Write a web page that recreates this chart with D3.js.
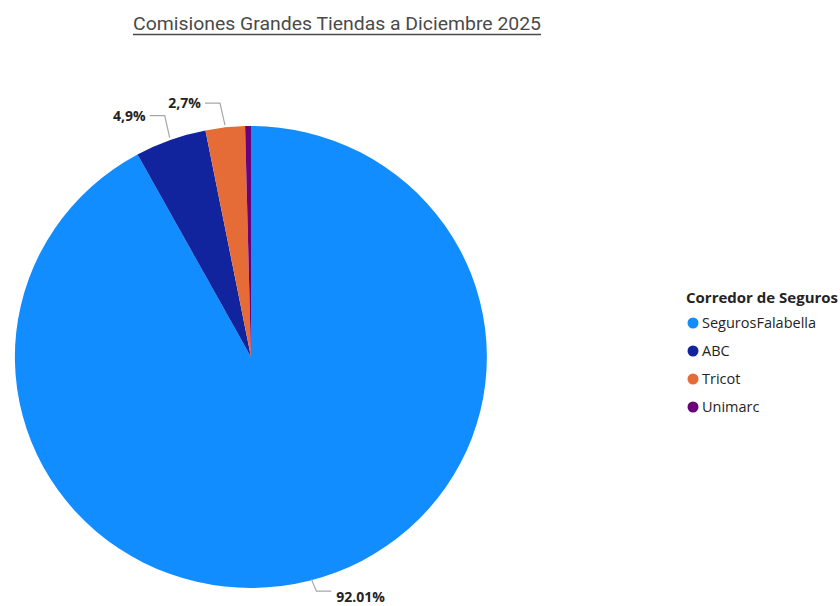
<!DOCTYPE html>
<html><head><meta charset="utf-8">
<script src="https://cdn.jsdelivr.net/npm/d3@7"></script>
<style>body{margin:0;background:#fff;}</style>
</head><body>
<svg id="c" width="840" height="606"></svg>
<script>
const categories = ["SegurosFalabella", "ABC", "Tricot", "Unimarc"];
const values = [92.01, 4.9, 2.7, 0.39];
const labels = ["92.01%", "4,9%", "2,7%", null];
const colors = ["#118DFF", "#12239E", "#E66C37", "#6B007B"];
const titleText = "Comisiones Grandes Tiendas a Diciembre 2025";
const legendTitle = "Corredor de Seguros";

const svg = d3.select("#c");
const W = 840, H = 606;
svg.append("rect").attr("width", W).attr("height", H).attr("fill", "#fff");

// Title
svg.append("text").attr("x", 133).attr("y", 30)
  .attr("font-family", "Roboto, 'DejaVu Sans Condensed', sans-serif")
  .attr("font-size", 18).attr("fill", "#4a4a4a")
  .attr("textLength", 408).attr("lengthAdjust", "spacingAndGlyphs")
  .text(titleText);
svg.append("line").attr("x1", 133).attr("x2", 541).attr("y1", 34.5).attr("y2", 34.5)
  .attr("stroke", "#4a4a4a").attr("stroke-width", 1.3);

// Pie
const cx = 251, cy = 357, rx = 236, ry = 231;
const pie = d3.pie().sort(null).value(d => d)(values);
const arc = d3.arc().innerRadius(0).outerRadius(1);
const g = svg.append("g").attr("transform", `translate(${cx},${cy}) scale(${rx},${ry})`);
g.selectAll("path").data(pie).join("path")
  .attr("d", arc).attr("fill", (d, i) => colors[i]);

// Labels with leader lines
const pt = (a, k) => [cx + Math.sin(a) * rx * k, cy - Math.cos(a) * ry * k];
const lab = svg.append("g");
pie.forEach((d, i) => {
  if (!labels[i]) return;
  const mid = (d.startAngle + d.endAngle) / 2;
  let p0, p1, p2, tx, ty, anchor;
  if (i === 0) {
    const a = Math.PI - 0.26;
    p0 = pt(a, 0.995); p1 = [p0[0] + 5, p0[1] + 12]; p2 = [p1[0] + 15, p1[1]];
    tx = p2[0] + 5; ty = 602; anchor = "start";
  } else {
    p0 = pt(mid, 1.01);
    p1 = [p0[0] - 5, p0[1] - 22]; p2 = [p1[0] - 15, p1[1]];
    tx = p2[0] - 4; ty = p2[1] + 5; anchor = "end";
  }
  lab.append("polyline").attr("points", [p0, p1, p2].map(p => p.join(",")).join(" "))
    .attr("fill", "none").attr("stroke", "#a6a6a6").attr("stroke-width", 1.2);
  lab.append("text").attr("x", tx).attr("y", ty).attr("text-anchor", anchor)
    .attr("font-family", "'Open Sans', 'Noto Sans', sans-serif").attr("font-weight", "bold")
    .attr("font-size", 14).attr("fill", "#252423").text(labels[i]);
});

// Legend
const lg = svg.append("g").attr("transform", "translate(686,0)");
lg.append("text").attr("x", 0).attr("y", 303)
  .attr("font-family", "'Open Sans', 'Noto Sans', sans-serif").attr("font-weight", "bold")
  .attr("font-size", 15).attr("fill", "#252423").text(legendTitle);
categories.forEach((c, i) => {
  const y = 323 + i * 28;
  lg.append("circle").attr("cx", 7).attr("cy", y).attr("r", 5.5).attr("fill", colors[i]);
  lg.append("text").attr("x", 16).attr("y", y + 5)
    .attr("font-family", "'Open Sans', 'Noto Sans', sans-serif")
    .attr("font-size", 14.5).attr("fill", "#252423").text(c);
});
</script>
</body></html>
